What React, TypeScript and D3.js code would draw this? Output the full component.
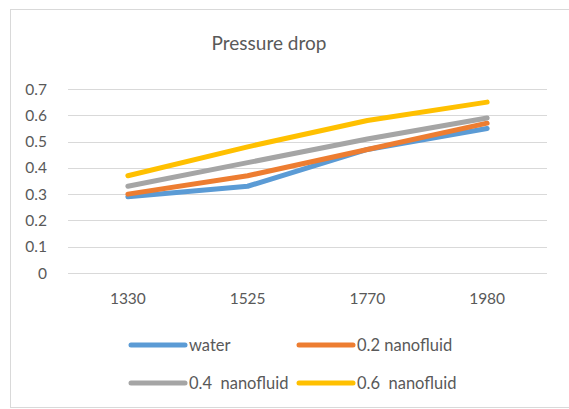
import React from "react";
import * as d3 from "d3";

const categories = ["1330", "1525", "1770", "1980"];
const seriesNames = ["water", "0.2 nanofluid", "0.4  nanofluid", "0.6  nanofluid"];
const water = [0.29, 0.33, 0.47, 0.55];
const nano02 = [0.30, 0.37, 0.47, 0.57];
const nano04 = [0.33, 0.42, 0.51, 0.59];
const nano06 = [0.37, 0.48, 0.58, 0.65];
const yTicks = [0, 0.1, 0.2, 0.3, 0.4, 0.5, 0.6, 0.7];
const colors = ["#5B9BD5", "#ED7D31", "#A5A5A5", "#FFC000"];

const W = 569;
const H = 409;
const FONT = "Lato, 'Open Sans', sans-serif";
const TEXT = "#595959";

export default function App() {
  const series = [water, nano02, nano04, nano06];
  const x = d3.scaleBand<string>().domain(categories).range([68, 547]);
  const y = d3.scaleLinear().domain([0, 0.7]).range([273, 89]);
  const line = d3
    .line<number>()
    .x((_, i) => (x(categories[i]) as number) + x.bandwidth() / 2)
    .y((d) => y(d));

  const legendPos = [
    { lx: 131, ly: 345 },
    { lx: 299, ly: 345 },
    { lx: 131, ly: 383 },
    { lx: 299, ly: 383 },
  ];

  return (
    <svg
      width={W}
      height={H}
      style={{ position: "absolute", left: 0, top: 0, background: "#fff" }}
    >
      <rect x={10.5} y={9.5} width={600} height={398} fill="#fff" stroke="#d9d9d9" strokeWidth={1} />
      <text x={269} y={50} textAnchor="middle" fontFamily={FONT} fontSize={19} fill={TEXT}>
        Pressure drop
      </text>
      {yTicks.map((t) => (
        <g key={t}>
          <line x1={68} x2={547} y1={Math.round(y(t)) + 0.5} y2={Math.round(y(t)) + 0.5} stroke="#d9d9d9" strokeWidth={1} />
          <text x={47} y={y(t)} dy="0.36em" textAnchor="end" fontFamily={FONT} fontSize={15.5} fill={TEXT}>
            {String(t)}
          </text>
        </g>
      ))}
      {categories.map((c) => (
        <text key={c} x={(x(c) as number) + x.bandwidth() / 2} y={304} textAnchor="middle" fontFamily={FONT} fontSize={15.5} fill={TEXT}>
          {c}
        </text>
      ))}
      {series.map((s, i) => (
        <path key={i} d={line(s) || ""} fill="none" stroke={colors[i]} strokeWidth={5} strokeLinecap="round" strokeLinejoin="round" />
      ))}
      {seriesNames.map((n, i) => (
        <g key={n}>
          <line x1={legendPos[i].lx} x2={legendPos[i].lx + 54} y1={legendPos[i].ly} y2={legendPos[i].ly} stroke={colors[i]} strokeWidth={5} strokeLinecap="round" />
          <text x={legendPos[i].lx + 58} y={legendPos[i].ly} dy="0.36em" fontFamily={FONT} fontSize={16.5} fill={TEXT} style={{ whiteSpace: "pre" }}>
            {n}
          </text>
        </g>
      ))}
    </svg>
  );
}
